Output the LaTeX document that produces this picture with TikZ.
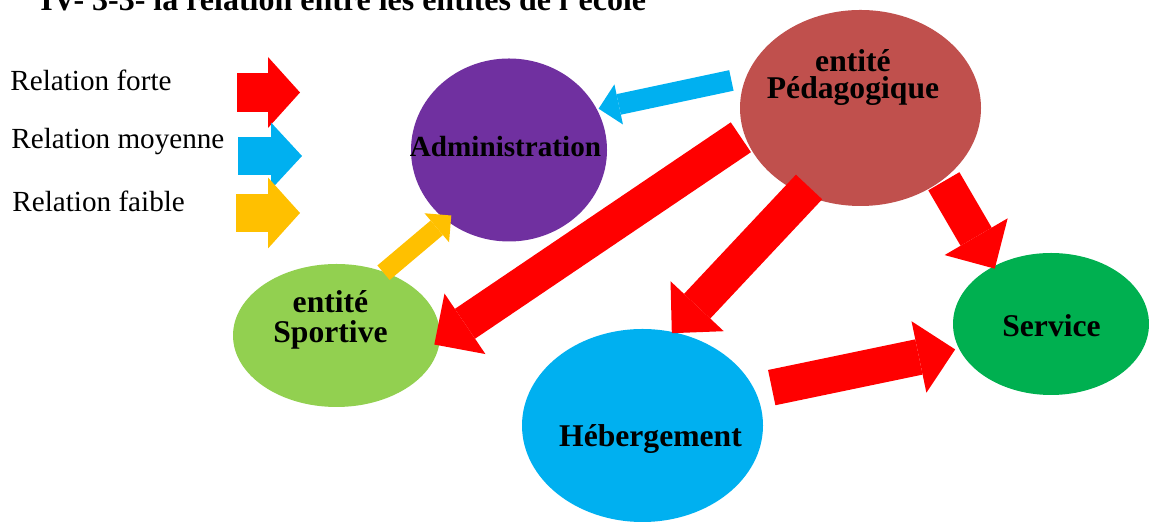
\documentclass[tikz,border=0pt]{standalone}
\usepackage{fontspec}
\setmainfont{Liberation Serif}
\usetikzlibrary{arrows.meta,shapes.geometric}
\definecolor{relred}{HTML}{FF0000}
\definecolor{relblue}{HTML}{00B0F0}
\definecolor{relyellow}{HTML}{FFC000}
\definecolor{admcol}{HTML}{7030A0}
\definecolor{pedcol}{HTML}{C0504D}
\definecolor{spocol}{HTML}{92D050}
\definecolor{hebcol}{HTML}{00B0F0}
\definecolor{sercol}{HTML}{00B050}

\tikzset{
  entity/.style={ellipse, inner sep=0pt, outer sep=0pt},
  etiq/.style={inner sep=0pt, align=center, text=black, font=\fontsize{18}{15}\selectfont\bfseries},
  legtext/.style={inner sep=0pt, anchor=base west, font=\fontsize{16.6}{20}\selectfont},
  forte/.style={draw=relred, line width=0.72cm, -{Triangle[length=0.74cm,width=1.46cm,line width=0pt]}},
  moyenne/.style={draw=relblue, line width=0.42cm, -{Triangle[length=0.41cm,width=0.82cm,line width=0pt]}},
  faible/.style={draw=relyellow, line width=0.38cm, -{Triangle[length=0.38cm,width=0.76cm,line width=0pt]}},
  legarrow/.style={line width=0.77cm, -{Triangle[length=0.64cm,width=1.42cm,line width=0pt]}}
}

\begin{document}
\begin{tikzpicture}
  \useasboundingbox (0,0) rectangle (22.98,10.46);
  % title, cut by the top of the page
  \node[anchor=base west, inner sep=0pt, font=\fontsize{18.2}{20}\selectfont\bfseries] (titre) at (0.8,10.24)
    {IV- 3-3- la relation entre les entités de l'école};

  % legend
  \node[legtext] (lforte) at (0.2,8.64) {Relation forte};
  \node[legtext] (lmoyenne) at (0.22,7.48) {Relation moyenne};
  \node[legtext] (lfaible) at (0.24,6.22) {Relation faible};
  \coordinate (forte-a) at (4.74,8.61);
  \coordinate (forte-b) at (6.00,8.61);
  \coordinate (moy-a) at (4.76,7.34);
  \coordinate (moy-b) at (6.04,7.34);
  \coordinate (faib-a) at (4.72,6.20);
  \coordinate (faib-b) at (6.00,6.20);
  \draw[legarrow, draw=relred] (forte-a) -- (forte-b);
  \draw[legarrow, draw=relblue, -{Triangle[length=0.62cm,width=1.34cm,line width=0pt]}] (moy-a) -- (moy-b);
  \draw[legarrow, draw=relyellow] (faib-a) -- (faib-b);

  % entities
  \node[entity, fill=admcol, minimum width=3.92cm, minimum height=3.66cm] (admin) at (10.18,7.46) {};
  \node[entity, fill=pedcol, minimum width=4.82cm, minimum height=3.92cm] (peda) at (17.21,8.30) {};
  \node[entity, fill=spocol, minimum width=4.14cm, minimum height=2.86cm] (sport) at (6.73,3.75) {};
  \node[entity, fill=hebcol, minimum width=4.82cm, minimum height=3.86cm] (heb) at (12.85,1.95) {};
  \node[entity, fill=sercol, minimum width=3.92cm, minimum height=2.84cm] (serv) at (21.02,3.98) {};

  % relations
  \draw[moyenne, shorten <=0.30cm, shorten >=0.04cm] (peda.165) -- (admin.25);
  \draw[forte, shorten <=0.09cm, shorten >=-0.13cm] (peda.193) -- (sport.357);
  \draw[forte, shorten <=-0.19cm, shorten >=-0.03cm] (peda.236) -- (heb.72);
  \draw[forte, shorten <=0.04cm, shorten >=-0.05cm] (peda.319) -- (serv.135);
  \draw[forte, shorten <=0.34cm, shorten >=0.08cm] (heb.17) -- (serv.195);
  \draw[faible, shorten <=-0.02cm, shorten >=-0.14cm] (sport.53) -- (admin.228);

  % names
  \node[etiq, font=\fontsize{16.6}{20}\selectfont\bfseries, anchor=base] (admin-t) at (10.11,7.32) {Administration};
  \node[etiq] (peda-t) at (17.06,8.91) {entité\\Pédagogique};
  \node[etiq, font=\fontsize{18}{17}\selectfont\bfseries] (sport-t) at (6.61,4.06) {entité\\Sportive};
  \node[etiq, anchor=base] (heb-t) at (13.01,1.53) {Hébergement};
  \node[etiq, anchor=base] (serv-t) at (21.03,3.73) {Service};
\end{tikzpicture}
\end{document}
